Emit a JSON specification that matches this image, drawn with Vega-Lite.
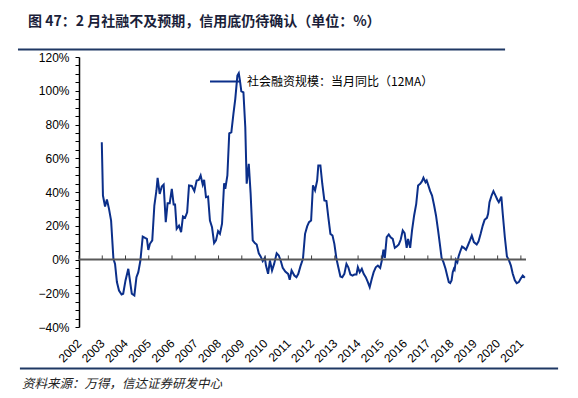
{
  "$schema": "https://vega.github.io/schema/vega-lite/v6.json",
  "width": 447,
  "height": 270,
  "autosize": "none",
  "padding": {"left": 79, "top": 57, "right": 52, "bottom": 71},
  "background": "white",
  "title": {
    "text": "图 47：2 月社融不及预期，信用底仍待确认（单位：%）",
    "anchor": "start",
    "frame": "group",
    "dx": -51,
    "offset": 20,
    "font": "Noto Sans CJK SC",
    "fontSize": 14,
    "fontWeight": "bold",
    "color": "#1b1f3a"
  },
  "config": {
    "view": {"stroke": null},
    "axis": {"grid": false, "title": null, "labelOverlap": false, "labelFlush": false},
    "axisX": {
      "format": "d",
      "labelAngle": -45,
      "labelAlign": "right",
      "labelBaseline": "middle",
      "domain": false,
      "ticks": false,
      "labelPadding": 14,
      "labelFont": "Liberation Sans",
      "labelFontSize": 12,
      "labelColor": "#000000",
      "labelOverlap": false
    },
    "axisY": {
      "labelExpr": "datum.value % 20 == 0 ? format(datum.value, 'd') + '%' : ''",
      "domainColor": "#000000",
      "domainWidth": 1.5,
      "tickColor": "#000000",
      "tickSize": 4,
      "labelPadding": 6,
      "labelFont": "Liberation Sans",
      "labelFontSize": 12,
      "labelColor": "#000000",
      "labelOverlap": false
    }
  },
  "datasets": {
    "s": [
      {"t": 2002.98, "v": 69.5}, {"t": 2003.03, "v": 37.9}, {"t": 2003.12, "v": 31.4}, {"t": 2003.2, "v": 35.5},
      {"t": 2003.29, "v": 30}, {"t": 2003.38, "v": 23}, {"t": 2003.48, "v": 0.4}, {"t": 2003.55, "v": -2.6},
      {"t": 2003.63, "v": -13.4}, {"t": 2003.72, "v": -18.4}, {"t": 2003.83, "v": -20.7}, {"t": 2003.9, "v": -20.3},
      {"t": 2004.0, "v": -12.4}, {"t": 2004.12, "v": -5.5}, {"t": 2004.18, "v": -11.4}, {"t": 2004.27, "v": -20.3},
      {"t": 2004.38, "v": -21.3}, {"t": 2004.47, "v": -10.5}, {"t": 2004.55, "v": -7.5}, {"t": 2004.64, "v": -0.6},
      {"t": 2004.74, "v": 13.6}, {"t": 2004.84, "v": 12.8}, {"t": 2004.92, "v": 12.2}, {"t": 2004.98, "v": 5.7},
      {"t": 2005.05, "v": 9.3}, {"t": 2005.15, "v": 11.3}, {"t": 2005.24, "v": 32}, {"t": 2005.33, "v": 40.9},
      {"t": 2005.38, "v": 48.4}, {"t": 2005.47, "v": 38.9}, {"t": 2005.56, "v": 43.3}, {"t": 2005.64, "v": 44.4},
      {"t": 2005.73, "v": 22.1}, {"t": 2005.81, "v": 33.4}, {"t": 2005.9, "v": 33.4}, {"t": 2005.99, "v": 41.9},
      {"t": 2006.07, "v": 32.6}, {"t": 2006.13, "v": 32.6}, {"t": 2006.2, "v": 18.2}, {"t": 2006.3, "v": 20.1},
      {"t": 2006.39, "v": 16.2}, {"t": 2006.47, "v": 25.5}, {"t": 2006.56, "v": 24.7}, {"t": 2006.65, "v": 28},
      {"t": 2006.73, "v": 43.9}, {"t": 2006.85, "v": 43.6}, {"t": 2006.96, "v": 40.6}, {"t": 2007.06, "v": 46.8},
      {"t": 2007.15, "v": 47.2}, {"t": 2007.23, "v": 49.8}, {"t": 2007.32, "v": 44.4}, {"t": 2007.38, "v": 47.2},
      {"t": 2007.46, "v": 36.9}, {"t": 2007.55, "v": 37.3}, {"t": 2007.63, "v": 23.1}, {"t": 2007.72, "v": 19.1},
      {"t": 2007.81, "v": 9.7}, {"t": 2007.89, "v": 11.3}, {"t": 2007.98, "v": 16.8}, {"t": 2008.06, "v": 15.2},
      {"t": 2008.15, "v": 21.2}, {"t": 2008.24, "v": 45.2}, {"t": 2008.29, "v": 41.9}, {"t": 2008.38, "v": 49.8},
      {"t": 2008.46, "v": 74.8}, {"t": 2008.55, "v": 75.4}, {"t": 2008.64, "v": 86.3}, {"t": 2008.72, "v": 95.2},
      {"t": 2008.81, "v": 109}, {"t": 2008.87, "v": 110.4}, {"t": 2008.92, "v": 106}, {"t": 2008.98, "v": 99.7},
      {"t": 2009.07, "v": 99.1}, {"t": 2009.15, "v": 78.4}, {"t": 2009.21, "v": 44.9}, {"t": 2009.3, "v": 56.7},
      {"t": 2009.38, "v": 38.9}, {"t": 2009.47, "v": 11.3}, {"t": 2009.56, "v": 9.7}, {"t": 2009.64, "v": 8.9},
      {"t": 2009.73, "v": 3.7}, {"t": 2009.81, "v": 1.8}, {"t": 2009.9, "v": -1.0}, {"t": 2009.99, "v": 1.0},
      {"t": 2010.04, "v": -3.6}, {"t": 2010.13, "v": -8.5}, {"t": 2010.21, "v": -0.6}, {"t": 2010.3, "v": -6.5},
      {"t": 2010.39, "v": -2.6}, {"t": 2010.5, "v": 3.7}, {"t": 2010.59, "v": 2.4}, {"t": 2010.68, "v": -1.0},
      {"t": 2010.76, "v": -4.9}, {"t": 2010.87, "v": -7.2}, {"t": 2010.99, "v": -8.5}, {"t": 2011.06, "v": -12},
      {"t": 2011.14, "v": -6.5}, {"t": 2011.26, "v": -9.5}, {"t": 2011.35, "v": -10.5}, {"t": 2011.43, "v": -8.5},
      {"t": 2011.52, "v": -4.1}, {"t": 2011.63, "v": 0.4}, {"t": 2011.72, "v": 15.2}, {"t": 2011.81, "v": 19.6},
      {"t": 2011.89, "v": 22.1}, {"t": 2011.98, "v": 23.1}, {"t": 2012.06, "v": 43.9}, {"t": 2012.15, "v": 40.9},
      {"t": 2012.24, "v": 46.8}, {"t": 2012.29, "v": 55.7}, {"t": 2012.38, "v": 55.7}, {"t": 2012.46, "v": 44.9},
      {"t": 2012.55, "v": 35}, {"t": 2012.64, "v": 34.6}, {"t": 2012.72, "v": 25.1}, {"t": 2012.81, "v": 15.2},
      {"t": 2012.9, "v": 14.2}, {"t": 2012.98, "v": 9.3}, {"t": 2013.07, "v": 0.4}, {"t": 2013.15, "v": -4.6},
      {"t": 2013.24, "v": -10.1}, {"t": 2013.32, "v": -10.5}, {"t": 2013.41, "v": -8.5}, {"t": 2013.5, "v": -2.6},
      {"t": 2013.58, "v": -4.6}, {"t": 2013.67, "v": -8.9}, {"t": 2013.76, "v": -9.5}, {"t": 2013.84, "v": -8.9},
      {"t": 2013.93, "v": -8.9}, {"t": 2013.99, "v": -4.6}, {"t": 2014.07, "v": -7.5}, {"t": 2014.16, "v": -5.5},
      {"t": 2014.24, "v": -8.5}, {"t": 2014.33, "v": -10.5}, {"t": 2014.42, "v": -13.4}, {"t": 2014.5, "v": -16.4},
      {"t": 2014.59, "v": -11.4}, {"t": 2014.67, "v": -7.5}, {"t": 2014.76, "v": -4.6}, {"t": 2014.85, "v": -3.6},
      {"t": 2014.95, "v": -5}, {"t": 2015.03, "v": 0}, {"t": 2015.09, "v": 5.8}, {"t": 2015.15, "v": 1.0},
      {"t": 2015.23, "v": 13.2}, {"t": 2015.32, "v": 14.8}, {"t": 2015.4, "v": 13.2}, {"t": 2015.49, "v": 12.2},
      {"t": 2015.58, "v": 6.9}, {"t": 2015.66, "v": 7.7}, {"t": 2015.75, "v": 8.9}, {"t": 2015.83, "v": 11.7},
      {"t": 2015.92, "v": 17.2}, {"t": 2016.0, "v": 15.6}, {"t": 2016.09, "v": 6.9}, {"t": 2016.15, "v": 12.2},
      {"t": 2016.24, "v": 6.9}, {"t": 2016.32, "v": 17.2}, {"t": 2016.41, "v": 26.1}, {"t": 2016.5, "v": 33},
      {"t": 2016.58, "v": 43.9}, {"t": 2016.67, "v": 44.9}, {"t": 2016.75, "v": 46.4}, {"t": 2016.81, "v": 48.4},
      {"t": 2016.9, "v": 45.8}, {"t": 2016.95, "v": 46.8}, {"t": 2017.01, "v": 44.4}, {"t": 2017.1, "v": 40.5},
      {"t": 2017.18, "v": 37.9}, {"t": 2017.27, "v": 32}, {"t": 2017.35, "v": 26.1}, {"t": 2017.44, "v": 17.2},
      {"t": 2017.53, "v": 7.7}, {"t": 2017.59, "v": 1.0}, {"t": 2017.67, "v": -1.6}, {"t": 2017.76, "v": -5.5},
      {"t": 2017.84, "v": -10.1}, {"t": 2017.9, "v": -13.4}, {"t": 2017.96, "v": -14}, {"t": 2018.02, "v": -12.4},
      {"t": 2018.07, "v": -7.5}, {"t": 2018.12, "v": -5.5}, {"t": 2018.15, "v": -6.1}, {"t": 2018.21, "v": -0.2},
      {"t": 2018.27, "v": -1.6}, {"t": 2018.32, "v": 1.8}, {"t": 2018.38, "v": 4.3}, {"t": 2018.47, "v": 7.7},
      {"t": 2018.55, "v": 6.9}, {"t": 2018.64, "v": 5.7}, {"t": 2018.72, "v": 8.3}, {"t": 2018.81, "v": 11.3},
      {"t": 2018.89, "v": 14.2}, {"t": 2018.98, "v": 10.3}, {"t": 2019.1, "v": 8.9}, {"t": 2019.18, "v": 10.8},
      {"t": 2019.27, "v": 15.2}, {"t": 2019.36, "v": 20.1}, {"t": 2019.44, "v": 23.5}, {"t": 2019.54, "v": 24.7},
      {"t": 2019.59, "v": 27.1}, {"t": 2019.65, "v": 34}, {"t": 2019.74, "v": 37.9}, {"t": 2019.82, "v": 40.5},
      {"t": 2019.91, "v": 37.9}, {"t": 2019.99, "v": 35.4}, {"t": 2020.05, "v": 34}, {"t": 2020.1, "v": 35.4},
      {"t": 2020.16, "v": 37.3}, {"t": 2020.22, "v": 27.1}, {"t": 2020.31, "v": 13.2}, {"t": 2020.4, "v": 1.8},
      {"t": 2020.48, "v": -0.2}, {"t": 2020.57, "v": -3.6}, {"t": 2020.65, "v": -8.5}, {"t": 2020.74, "v": -12.4},
      {"t": 2020.82, "v": -14}, {"t": 2020.91, "v": -13.4}, {"t": 2020.99, "v": -11.4}, {"t": 2021.08, "v": -9.5},
      {"t": 2021.17, "v": -10.8}
    ],
    "years": [
      {"yr": 2002}, {"yr": 2003}, {"yr": 2004}, {"yr": 2005}, {"yr": 2006}, {"yr": 2007}, {"yr": 2008},
      {"yr": 2009}, {"yr": 2010}, {"yr": 2011}, {"yr": 2012}, {"yr": 2013}, {"yr": 2014}, {"yr": 2015},
      {"yr": 2016}, {"yr": 2017}, {"yr": 2018}, {"yr": 2019}, {"yr": 2020}, {"yr": 2021}
    ]
  },
  "layer": [
    {
      "data": {"name": "s"},
      "mark": {"type": "line", "strokeWidth": 2, "interpolate": "linear"},
      "encoding": {
        "x": {
          "field": "t",
          "type": "quantitative",
          "scale": {"domain": [2002, 2021.22], "nice": false, "zero": false},
          "axis": {"labelOverlap": false, "values": [2002, 2003, 2004, 2005, 2006, 2007, 2008, 2009, 2010, 2011, 2012, 2013, 2014, 2015, 2016, 2017, 2018, 2019, 2020, 2021]}
        },
        "y": {
          "field": "v",
          "type": "quantitative",
          "scale": {"domain": [-40, 120], "nice": false},
          "axis": {"labelOverlap": false, "values": [-40, -35, -30, -25, -20, -15, -10, -5, 0, 5, 10, 15, 20, 25, 30, 35, 40, 45, 50, 55, 60, 65, 70, 75, 80, 85, 90, 95, 100, 105, 110, 115, 120]}
        },
        "color": {
          "datum": "社会融资规模：当月同比（12MA）",
          "type": "nominal",
          "scale": {"range": ["#0b2f8a"]},
          "legend": {
            "orient": "none",
            "legendX": 130,
            "legendY": 8,
            "title": null,
            "symbolType": "stroke",
            "symbolSize": 961,
            "symbolStrokeWidth": 2,
            "labelFont": "Noto Sans CJK SC",
            "labelFontSize": 12,
            "labelColor": "#000000",
            "labelOffset": 5,
            "labelLimit": 400
          }
        }
      }
    },
    {
      "data": {"values": [{}]},
      "mark": {"type": "rule", "color": "#595959", "strokeWidth": 2},
      "encoding": {"y": {"datum": 0, "type": "quantitative", "axis": {"labelOverlap": false, "values": [-40, -35, -30, -25, -20, -15, -10, -5, 0, 5, 10, 15, 20, 25, 30, 35, 40, 45, 50, 55, 60, 65, 70, 75, 80, 85, 90, 95, 100, 105, 110, 115, 120]}}}
    },
    {
      "data": {"name": "years"},
      "mark": {"type": "rule", "color": "#404040", "strokeWidth": 1},
      "encoding": {
        "x": {"field": "yr", "type": "quantitative", "axis": {"labelOverlap": false, "values": [2002, 2003, 2004, 2005, 2006, 2007, 2008, 2009, 2010, 2011, 2012, 2013, 2014, 2015, 2016, 2017, 2018, 2019, 2020, 2021]}},
        "y": {"datum": 0, "type": "quantitative", "axis": {"labelOverlap": false, "values": [-40, -35, -30, -25, -20, -15, -10, -5, 0, 5, 10, 15, 20, 25, 30, 35, 40, 45, 50, 55, 60, 65, 70, 75, 80, 85, 90, 95, 100, 105, 110, 115, 120]}},
        "y2": {"datum": 2.4}
      }
    },
    {
      "data": {"values": [{}]},
      "mark": {"type": "rule", "color": "#1f3864", "strokeWidth": 2, "clip": false},
      "encoding": {
        "x": {"datum": 1999.376, "type": "quantitative", "axis": {"labelOverlap": false, "values": [2002, 2003, 2004, 2005, 2006, 2007, 2008, 2009, 2010, 2011, 2012, 2013, 2014, 2015, 2016, 2017, 2018, 2019, 2020, 2021]}},
        "x2": {"datum": 2020.32},
        "y": {"datum": 124.44, "type": "quantitative", "axis": {"labelOverlap": false, "values": [-40, -35, -30, -25, -20, -15, -10, -5, 0, 5, 10, 15, 20, 25, 30, 35, 40, 45, 50, 55, 60, 65, 70, 75, 80, 85, 90, 95, 100, 105, 110, 115, 120]}}
      }
    },
    {
      "data": {"values": [{}]},
      "mark": {"type": "rule", "color": "#1f3864", "strokeWidth": 2, "clip": false},
      "encoding": {
        "x": {"datum": 1999.46, "type": "quantitative", "axis": {"labelOverlap": false, "values": [2002, 2003, 2004, 2005, 2006, 2007, 2008, 2009, 2010, 2011, 2012, 2013, 2014, 2015, 2016, 2017, 2018, 2019, 2020, 2021]}},
        "x2": {"datum": 2022.6},
        "y": {"datum": -64.59, "type": "quantitative", "axis": {"labelOverlap": false, "values": [-40, -35, -30, -25, -20, -15, -10, -5, 0, 5, 10, 15, 20, 25, 30, 35, 40, 45, 50, 55, 60, 65, 70, 75, 80, 85, 90, 95, 100, 105, 110, 115, 120]}}
      }
    },
    {
      "data": {"values": [{"src": "资料来源：万得，信达证券研发中心"}]},
      "mark": {"type": "text", "align": "left", "baseline": "middle", "font": "Noto Sans CJK SC", "fontSize": 12.5, "fontStyle": "italic", "color": "#222222", "clip": false},
      "encoding": {
        "x": {"datum": 1999.55, "type": "quantitative", "axis": {"labelOverlap": false, "values": [2002, 2003, 2004, 2005, 2006, 2007, 2008, 2009, 2010, 2011, 2012, 2013, 2014, 2015, 2016, 2017, 2018, 2019, 2020, 2021]}},
        "y": {"datum": -73.5, "type": "quantitative", "axis": {"labelOverlap": false, "values": [-40, -35, -30, -25, -20, -15, -10, -5, 0, 5, 10, 15, 20, 25, 30, 35, 40, 45, 50, 55, 60, 65, 70, 75, 80, 85, 90, 95, 100, 105, 110, 115, 120]}},
        "text": {"field": "src"}
      }
    }
  ]
}
